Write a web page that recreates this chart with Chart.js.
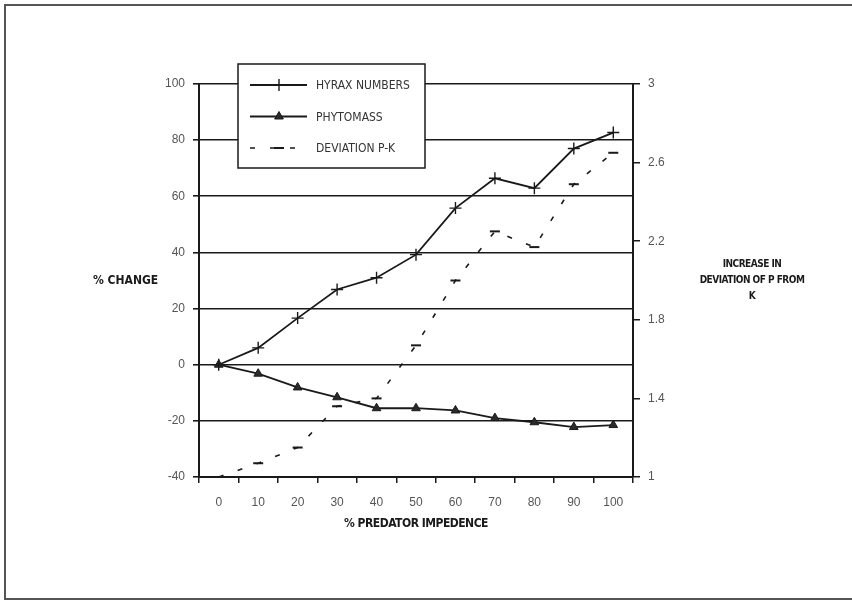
<!DOCTYPE html>
<html>
<head>
<meta charset="utf-8">
<script src="https://cdn.jsdelivr.net/npm/chart.js@4/dist/chart.umd.min.js"></script>
<style>
  html, body { margin: 0; padding: 0; background: #fff; }
  canvas { display: block; }
</style>
</head>
<body>
<canvas id="myChart" width="852" height="601"></canvas>
<script>
// values
const impedence = ['0', '10', '20', '30', '40', '50', '60', '70', '80', '90', '100'];
const hyraxNumbers = [0, 6, 16.6, 26.8, 31, 39.2, 55.8, 66.4, 62.9, 77, 82.7];
const phytomass = [0, -3.2, -8.1, -11.6, -15.5, -15.5, -16.3, -19, -20.5, -22.2, -21.5];
const deviationPK = [1.0, 1.07, 1.15, 1.36, 1.40, 1.67, 2.0, 2.25, 2.17, 2.49, 2.65];
const seriesNames = ['HYRAX NUMBERS', 'PHYTOMASS', 'DEVIATION P-K'];

const ink = '#1a1a1a';
const tickFont = { family: 'Liberation Sans, Arial, sans-serif', size: 12 };
const titleFamily = '"Liberation Sans Narrow", "DejaVu Sans Condensed", "Liberation Sans", sans-serif';

// frame, axis titles and the boxed legend
let paperPlugin = {
  id: 'paper',
  beforeDraw(chart) {
    let c = chart.ctx;
    c.save();
    c.fillStyle = '#fff';
    c.fillRect(0, 0, chart.width, chart.height);
    c.strokeStyle = '#555';
    c.lineWidth = 2;
    c.beginPath();
    c.moveTo(chart.width, 5);
    c.lineTo(5, 5);
    c.lineTo(5, 599);
    c.lineTo(chart.width, 599);
    c.stroke();
    c.restore();
  },
  afterDraw(chart) {
    let c = chart.ctx;
    let area = chart.chartArea;
    c.save();
    c.fillStyle = ink;
    c.textBaseline = 'middle';

    c.font = 'bold 12px ' + titleFamily;
    c.textAlign = 'left';
    c.fillText('% CHANGE', 93, 281);

    c.textAlign = 'center';
    c.letterSpacing = '-0.5px';
    c.font = 'bold 12px ' + titleFamily;
    c.fillText('% PREDATOR IMPEDENCE', (area.left + area.right) / 2, 524);

    c.font = 'bold 10px ' + titleFamily;
    ['INCREASE IN', 'DEVIATION OF P FROM', 'K'].forEach((t, i) => {
      c.fillText(t, 752, 264 + i * 16);
    });
    c.letterSpacing = '0px';

    // legend box
    let box = { x: 238, y: 64, w: 187, h: 104 };
    c.fillStyle = '#fff';
    c.fillRect(box.x, box.y, box.w, box.h);
    c.strokeStyle = ink;
    c.lineWidth = 1.5;
    c.strokeRect(box.x, box.y, box.w, box.h);

    chart.data.datasets.forEach((ds, i) => {
      let y = 85 + i * 31.5;
      c.strokeStyle = ds.borderColor;
      c.lineWidth = ds.borderWidth;
      c.setLineDash(ds.borderDash || []);
      c.beginPath();
      c.moveTo(250, y);
      c.lineTo(307, y);
      c.stroke();
      c.setLineDash([]);
      c.fillStyle = ds.pointBackgroundColor;
      c.strokeStyle = ds.pointBorderColor;
      c.lineWidth = ds.pointBorderWidth;
      Chart.helpers.drawPoint(c, {
        pointStyle: ds.pointStyle, radius: ds.pointRadius,
        borderWidth: ds.pointBorderWidth, rotation: 0
      }, 279, y);
      c.fillStyle = '#333';
      c.textAlign = 'left';
      c.font = '12px ' + titleFamily;
      c.fillText(ds.label, 316, y + 1);
    });
    c.restore();
  }
};

const ctx = document.getElementById('myChart');

let config = {
  type: 'line',
  data: {
    labels: impedence,
    datasets: [
      {
        label: seriesNames[0],
        data: hyraxNumbers,
        yAxisID: 'y',
        borderColor: ink,
        borderWidth: 1.8,
        pointStyle: 'cross',
        pointRadius: 6,
        pointBorderWidth: 1.4,
        pointBorderColor: ink,
        pointBackgroundColor: ink
      },
      {
        label: seriesNames[1],
        data: phytomass,
        yAxisID: 'y',
        borderColor: ink,
        borderWidth: 1.8,
        pointStyle: 'triangle',
        pointRadius: 5,
        pointBorderWidth: 1,
        pointBorderColor: ink,
        pointBackgroundColor: '#2a2a2a'
      },
      {
        label: seriesNames[2],
        data: deviationPK,
        yAxisID: 'y1',
        borderColor: ink,
        borderWidth: 1.6,
        borderDash: [5, 15],
        pointStyle: 'line',
        pointRadius: 5,
        pointBorderWidth: 2,
        pointBorderColor: ink,
        pointBackgroundColor: ink
      }
    ]
  },
  options: {
    responsive: false,
    animation: false,
    layout: { padding: { top: 84, left: 0, right: 0, bottom: 0 } },
    plugins: {
      legend: { display: false },
      tooltip: { enabled: false }
    },
    scales: {
      x: {
        offset: true,
        grid: {
          offset: true,
          drawOnChartArea: false,
          color: ink,
          lineWidth: 1.5,
          tickLength: 6
        },
        border: { display: true, color: ink, width: 2 },
        ticks: { color: '#555', font: tickFont, padding: 12, maxRotation: 0 },
        afterFit(scale) { scale.height = 601 - 477; }
      },
      y: {
        position: 'left',
        min: -40,
        max: 100,
        ticks: { stepSize: 20, color: '#555', font: tickFont, padding: 8 },
        grid: { color: ink, lineWidth: 1.6, tickLength: 6 },
        border: { display: true, color: ink, width: 2 },
        afterFit(scale) { scale.width = 199; }
      },
      y1: {
        position: 'right',
        min: 1,
        max: 3,
        ticks: {
          stepSize: 0.4,
          color: '#555',
          font: tickFont,
          padding: 8,
          callback: v => String(Number(v.toFixed(1)))
        },
        grid: { drawOnChartArea: false, color: ink, lineWidth: 1.5, tickLength: 7 },
        border: { display: true, color: ink, width: 2 },
        afterFit(scale) { scale.width = 852 - 633; }
      }
    }
  },
  plugins: [paperPlugin]
};

let chart = new Chart(ctx, config);
</script>
</body>
</html>
